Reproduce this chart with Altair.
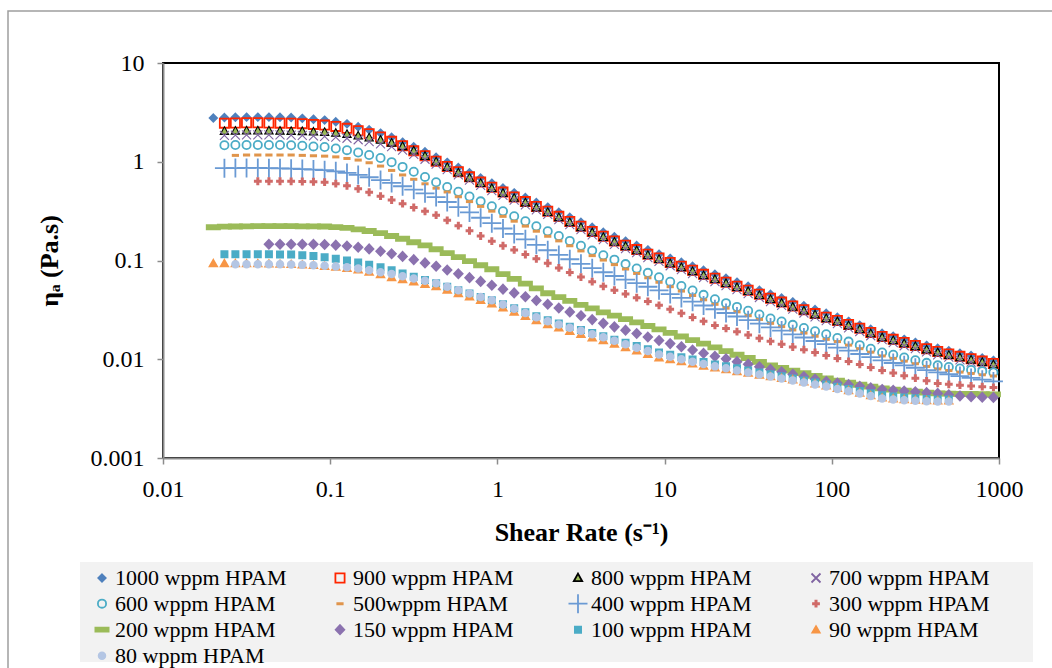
import altair as alt
import pandas as pd

# ---------------- data ----------------
SHEAR_RATE = [0.0200, 0.0233, 0.0271, 0.0316, 0.0369, 0.0430, 0.0501, 0.0584, 0.0681, 0.0794,
              0.0926, 0.108, 0.126, 0.147, 0.171, 0.200, 0.233, 0.271, 0.316, 0.369,
              0.430, 0.501, 0.584, 0.681, 0.794, 0.926, 1.08, 1.26, 1.47, 1.71,
              2.00, 2.33, 2.71, 3.16, 3.69, 4.30, 5.01, 5.84, 6.81, 7.94,
              9.26, 10.8, 12.6, 14.7, 17.1, 20.0, 23.3, 27.1, 31.6, 36.9,
              43.0, 50.1, 58.4, 68.1, 79.4, 92.6, 108, 126, 147, 171,
              200, 233, 271, 316, 369, 430, 501, 584, 681, 794,
              926]

SERIES = ["1000 wppm HPAM", "900 wppm HPAM", "800 wppm HPAM", "700 wppm HPAM",
          "600 wppm HPAM", "500wppm HPAM", "400 wppm HPAM", "300 wppm HPAM",
          "200 wppm HPAM", "150 wppm HPAM", "100 wppm HPAM", "90 wppm HPAM",
          "80 wppm HPAM"]

ETA_1000 = [2.77, 2.80, 2.82, 2.83, 2.83, 2.83, 2.82, 2.80, 2.75, 2.70,
            2.64, 2.54, 2.42, 2.26, 2.11, 1.95, 1.77, 1.58, 1.42, 1.26,
            1.11, 0.986, 0.873, 0.773, 0.684, 0.607, 0.542, 0.484, 0.434, 0.387,
            0.347, 0.308, 0.274, 0.244, 0.217, 0.193, 0.174, 0.157, 0.142, 0.128,
            0.116, 0.105, 0.0959, 0.0875, 0.0796, 0.0726, 0.0661, 0.0603, 0.0548, 0.0500,
            0.0455, 0.0417, 0.0381, 0.0348, 0.0319, 0.0292, 0.0266, 0.0242, 0.0221, 0.0201,
            0.0183, 0.0171, 0.0159, 0.0148, 0.0138, 0.0129, 0.0122, 0.0115, 0.0109, 0.0103,
            0.00973]

ETA_900 = [None, 2.46, 2.47, 2.48, 2.48, 2.47, 2.46, 2.45, 2.43, 2.39,
           2.35, 2.28, 2.18, 2.06, 1.92, 1.78, 1.61, 1.45, 1.29, 1.15,
           1.01, 0.897, 0.794, 0.703, 0.622, 0.552, 0.493, 0.440, 0.395, 0.352,
           0.316, 0.280, 0.249, 0.222, 0.197, 0.176, 0.158, 0.143, 0.129, 0.116,
           0.106, 0.0956, 0.0873, 0.0796, 0.0724, 0.0661, 0.0602, 0.0549, 0.0499, 0.0455,
           0.0414, 0.0379, 0.0347, 0.0317, 0.0290, 0.0266, 0.0247, 0.0225, 0.0206, 0.0187,
           0.0170, 0.0159, 0.0148, 0.0138, 0.0128, 0.0120, 0.0113, 0.0107, 0.0101, 0.00958,
           0.00905]

ETA_800 = [None, 2.04, 2.05, 2.06, 2.06, 2.06, 2.05, 2.04, 2.03, 2.01,
           1.99, 1.95, 1.90, 1.83, 1.75, 1.66, 1.55, 1.43, 1.29, 1.14,
           1.00, 0.881, 0.774, 0.685, 0.606, 0.538, 0.481, 0.429, 0.385, 0.343,
           0.308, 0.273, 0.243, 0.216, 0.192, 0.172, 0.154, 0.139, 0.126, 0.113,
           0.103, 0.0932, 0.0851, 0.0776, 0.0706, 0.0644, 0.0587, 0.0535, 0.0487, 0.0444,
           0.0404, 0.0370, 0.0338, 0.0309, 0.0283, 0.0259, 0.0241, 0.0219, 0.0201, 0.0182,
           0.0166, 0.0155, 0.0144, 0.0135, 0.0125, 0.0117, 0.0110, 0.0104, 0.00985, 0.00934,
           0.00882]

ETA_700 = [None, 1.85, 1.86, 1.87, 1.87, 1.87, 1.87, 1.86, 1.85, 1.83,
           1.81, 1.78, 1.73, 1.67, 1.60, 1.52, 1.42, 1.31, 1.19, 1.06,
           0.944, 0.834, 0.735, 0.651, 0.576, 0.511, 0.457, 0.408, 0.366, 0.326,
           0.293, 0.259, 0.231, 0.205, 0.182, 0.163, 0.146, 0.132, 0.120, 0.107,
           0.0979, 0.0885, 0.0808, 0.0737, 0.0671, 0.0612, 0.0558, 0.0508, 0.0463, 0.0422,
           0.0384, 0.0352, 0.0321, 0.0294, 0.0269, 0.0246, 0.0229, 0.0208, 0.0191, 0.0173,
           0.0158, 0.0147, 0.0137, 0.0128, 0.0119, 0.0111, 0.0105, 0.00988, 0.00936, 0.00887,
           0.00838]

ETA_600 = [None, 1.47, 1.48, 1.48, 1.48, 1.48, 1.48, 1.47, 1.45, 1.43,
           1.41, 1.36, 1.31, 1.24, 1.17, 1.09, 0.991, 0.887, 0.791, 0.702,
           0.621, 0.555, 0.497, 0.444, 0.397, 0.355, 0.315, 0.281, 0.250, 0.222,
           0.198, 0.177, 0.158, 0.141, 0.126, 0.113, 0.102, 0.0920, 0.0830, 0.0750,
           0.0676, 0.0610, 0.0551, 0.0497, 0.0449, 0.0405, 0.0370, 0.0339, 0.0310, 0.0284,
           0.0259, 0.0241, 0.0223, 0.0207, 0.0192, 0.0179, 0.0164, 0.0151, 0.0139, 0.0128,
           0.0117, 0.0111, 0.0104, 0.00979, 0.00920, 0.00867, 0.00836, 0.00805, 0.00780, 0.00757,
           0.00736]

ETA_500 = [None, None, 1.16, 1.17, 1.17, 1.17, 1.17, 1.17, 1.16, 1.15,
           1.14, 1.12, 1.08, 1.04, 0.977, 0.904, 0.817, 0.735, 0.664, 0.598,
           0.540, 0.494, 0.442, 0.395, 0.353, 0.316, 0.280, 0.250, 0.223, 0.198,
           0.176, 0.158, 0.141, 0.125, 0.112, 0.101, 0.0908, 0.0819, 0.0739, 0.0668,
           0.0602, 0.0543, 0.0490, 0.0442, 0.0400, 0.0360, 0.0329, 0.0302, 0.0276, 0.0253,
           0.0231, 0.0214, 0.0198, 0.0184, 0.0171, 0.0159, 0.0151, 0.0139, 0.0128, 0.0118,
           0.0108, 0.0102, 0.00957, 0.00901, 0.00846, 0.00798, 0.00769, 0.00741, 0.00718, 0.00696,
           0.00677]

ETA_400 = [None, 0.861, 0.863, 0.865, 0.865, 0.861, 0.857, 0.851, 0.843, 0.834,
           0.822, 0.800, 0.771, 0.736, 0.697, 0.653, 0.610, 0.565, 0.521, 0.479,
           0.439, 0.391, 0.347, 0.307, 0.271, 0.239, 0.211, 0.186, 0.164, 0.144,
           0.127, 0.114, 0.103, 0.0925, 0.0836, 0.0760, 0.0697, 0.0641, 0.0589, 0.0542,
           0.0499, 0.0457, 0.0418, 0.0383, 0.0350, 0.0321, 0.0294, 0.0271, 0.0249, 0.0229,
           0.0210, 0.0195, 0.0179, 0.0166, 0.0153, 0.0142, 0.0131, 0.0122, 0.0113, 0.0105,
           0.00973, 0.00916, 0.00867, 0.00820, 0.00776, 0.00736, 0.00705, 0.00675, 0.00647, 0.00621,
           0.00596]

ETA_300 = [None, None, None, None, 0.635, 0.635, 0.635, 0.634, 0.631, 0.627,
           0.621, 0.600, 0.570, 0.532, 0.491, 0.448, 0.410, 0.376, 0.344, 0.315,
           0.288, 0.255, 0.225, 0.200, 0.177, 0.157, 0.141, 0.128, 0.115, 0.104,
           0.0938, 0.0841, 0.0757, 0.0679, 0.0611, 0.0548, 0.0501, 0.0459, 0.0420, 0.0385,
           0.0352, 0.0320, 0.0292, 0.0265, 0.0242, 0.0220, 0.0205, 0.0190, 0.0176, 0.0163,
           0.0152, 0.0142, 0.0133, 0.0125, 0.0117, 0.0109, 0.0102, 0.00951, 0.00887, 0.00826,
           0.00771, 0.00726, 0.00682, 0.00643, 0.00604, 0.00569, 0.00557, 0.00546, 0.00536, 0.00527,
           0.00519]

ETA_200 = [0.217, 0.220, 0.221, 0.222, 0.223, 0.223, 0.223, 0.223, 0.222, 0.222,
           0.221, 0.218, 0.214, 0.207, 0.199, 0.189, 0.177, 0.166, 0.153, 0.142,
           0.130, 0.119, 0.108, 0.0984, 0.0895, 0.0815, 0.0728, 0.0652, 0.0582, 0.0521,
           0.0466, 0.0426, 0.0390, 0.0356, 0.0327, 0.0299, 0.0276, 0.0255, 0.0236, 0.0217,
           0.0201, 0.0185, 0.0170, 0.0156, 0.0144, 0.0132, 0.0121, 0.0111, 0.0103, 0.00942,
           0.00867, 0.00817, 0.00767, 0.00723, 0.00679, 0.00640, 0.00608, 0.00579, 0.00552, 0.00527,
           0.00506, 0.00492, 0.00480, 0.00469, 0.00459, 0.00451, 0.00449, 0.00447, 0.00445, 0.00443,
           0.00441]

ETA_150 = [None, None, None, None, None, 0.146, 0.146, 0.146, 0.146, 0.146,
           0.145, 0.143, 0.140, 0.136, 0.131, 0.124, 0.117, 0.110, 0.102, 0.0946,
           0.0875, 0.0800, 0.0733, 0.0670, 0.0614, 0.0561, 0.0513, 0.0470, 0.0430, 0.0394,
           0.0360, 0.0330, 0.0301, 0.0276, 0.0252, 0.0231, 0.0213, 0.0197, 0.0182, 0.0168,
           0.0155, 0.0144, 0.0134, 0.0124, 0.0115, 0.0107, 0.0101, 0.00946, 0.00891, 0.00838,
           0.00789, 0.00746, 0.00705, 0.00667, 0.00630, 0.00596, 0.00574, 0.00553, 0.00532, 0.00513,
           0.00494, 0.00485, 0.00476, 0.00468, 0.00459, 0.00451, 0.00437, 0.00425, 0.00417, 0.00412,
           0.00410]

ETA_100 = [None, 0.116, 0.116, 0.116, 0.116, 0.116, 0.115, 0.115, 0.113, 0.111,
           0.108, 0.104, 0.100, 0.0957, 0.0906, 0.0853, 0.0796, 0.0740, 0.0685, 0.0634,
           0.0587, 0.0543, 0.0501, 0.0463, 0.0428, 0.0395, 0.0360, 0.0328, 0.0299, 0.0272,
           0.0248, 0.0230, 0.0213, 0.0198, 0.0184, 0.0171, 0.0158, 0.0147, 0.0136, 0.0126,
           0.0117, 0.0111, 0.0105, 0.00993, 0.00938, 0.00887, 0.00847, 0.00809, 0.00771, 0.00736,
           0.00703, 0.00671, 0.00640, 0.00611, 0.00582, 0.00556, 0.00528, 0.00501, 0.00476, 0.00453,
           0.00431, 0.00419, 0.00409, 0.00402, 0.00396, 0.00392, 0.00392, None, None, None,
           None]

ETA_90 = [0.0938, 0.0938, 0.0938, 0.0936, 0.0933, 0.0929, 0.0924, 0.0917, 0.0908, 0.0896,
          0.0880, 0.0860, 0.0836, 0.0808, 0.0768, 0.0722, 0.0677, 0.0644, 0.0612, 0.0578,
          0.0546, 0.0505, 0.0466, 0.0431, 0.0398, 0.0367, 0.0333, 0.0302, 0.0273, 0.0248,
          0.0225, 0.0209, 0.0193, 0.0180, 0.0166, 0.0155, 0.0143, 0.0132, 0.0122, 0.0113,
          0.0104, 0.00996, 0.00950, 0.00903, 0.00859, 0.00822, 0.00789, 0.00756, 0.00729, 0.00697,
          0.00670, 0.00646, 0.00623, 0.00594, 0.00567, 0.00542, 0.00511, 0.00483, 0.00458, 0.00432,
          0.00409, 0.00400, 0.00393, 0.00387, 0.00384, 0.00381, 0.00381, None, None, None,
          None]

ETA_80 = [None, None, 0.0916, 0.0918, 0.0918, 0.0916, 0.0914, 0.0912, 0.0906, 0.0897,
          0.0885, 0.0871, 0.0853, 0.0832, 0.0798, 0.0760, 0.0728, 0.0693, 0.0658, 0.0622,
          0.0587, 0.0543, 0.0501, 0.0463, 0.0428, 0.0395, 0.0358, 0.0325, 0.0294, 0.0267,
          0.0242, 0.0225, 0.0208, 0.0194, 0.0179, 0.0167, 0.0154, 0.0142, 0.0131, 0.0121,
          0.0112, 0.0106, 0.0100, 0.00946, 0.00895, 0.00847, 0.00809, 0.00771, 0.00736, 0.00701,
          0.00670, 0.00640, 0.00611, 0.00582, 0.00556, 0.00531, 0.00501, 0.00474, 0.00449, 0.00424,
          0.00401, 0.00392, 0.00385, 0.00379, 0.00376, 0.00374, 0.00374, None, None, None,
          None]

ETA_ALL = [ETA_1000, ETA_900, ETA_800, ETA_700, ETA_600, ETA_500, ETA_400,
           ETA_300, ETA_200, ETA_150, ETA_100, ETA_90, ETA_80]

# ---------------- marker styles (one per series) ----------------
CIRCLE_10 = ("M0.41,0C0.41,0.226 0.226,0.41 0,0.41C-0.226,0.41 -0.41,0.226 -0.41,0"
             "C-0.41,-0.226 -0.226,-0.41 0,-0.41C0.226,-0.41 0.41,-0.226 0.41,0Z")
CIRCLE_8 = ("M0.335,0C0.335,0.185 0.185,0.335 0,0.335C-0.185,0.335 -0.335,0.185 -0.335,0"
            "C-0.335,-0.185 -0.185,-0.335 0,-0.335C0.185,-0.335 0.335,-0.185 0.335,0Z")
SHAPES = [
    "M0,-0.37L0.37,0L0,0.37L-0.37,0Z",                    # 1000 diamond
    "M-0.46,-0.46H0.46V0.46H-0.46Z",                       # 900 open square
    "M0,-0.44L0.42,0.32L-0.42,0.32Z",                      # 800 triangle
    "M-0.45,-0.45L0.45,0.45M-0.45,0.45L0.45,-0.45",        # 700 x
    CIRCLE_10,                                             # 600 open circle
    "M-0.27,-0.06H0.27V0.06H-0.27Z",                       # 500 dash
    "M-0.95,0H0.95M0,-0.95V0.95",                          # 400 big plus
    "M-0.3,-0.06H-0.06V-0.3H0.06V-0.06H0.3V0.06H0.06V0.3H-0.06V0.06H-0.3Z",  # 300 plus
    "M-0.66,-0.2H0.66V0.2H-0.66Z",                         # 200 bar
    "M0,-0.45L0.43,0L0,0.45L-0.43,0Z",                     # 150 diamond
    "M-0.31,-0.31H0.31V0.31H-0.31Z",                       # 100 square
    "M0,-0.34L0.37,0.3L-0.37,0.3Z",                        # 90 triangle
    CIRCLE_8,                                              # 80 circle
]
FILLS = ["#4F81BD", "transparent", "#9BBB59", "transparent", "transparent", "#E0954C",
         "transparent", "#D06A68", "#9BBB59", "#8B72AF", "#4BACC6", "#F79646", "#B4C6E4"]
STROKES = ["#4F81BD", "#FF2600", "#000000", "#8064A2", "#4BACC6", "#E0954C",
           "#6A9AD4", "#D06A68", "#9BBB59", "#8B72AF", "#4BACC6", "#F79646", "#B4C6E4"]
# drawing groups (in Excel's series order) and their outline widths
GROUPS = [(SERIES[0:2], 1.8), (SERIES[2:4], 1.1), (SERIES[4:], 1.8)]

FONT = "Liberation Serif"

# ---------------- build table ----------------
rows = []
for name, etas in zip(SERIES, ETA_ALL):
    assert len(etas) == len(SHEAR_RATE), name
    for rate, eta in zip(SHEAR_RATE, etas):
        if eta is not None:
            rows.append({"series": name, "rate": rate, "eta": eta})
df = pd.DataFrame(rows)

base = alt.Chart(df).encode(
    x=alt.X("rate:Q",
            scale=alt.Scale(type="log", domain=[0.01, 1000]),
            axis=alt.Axis(values=[0.01, 0.1, 1, 10, 100, 1000], format="~g",
                          title="Shear Rate (s⁻¹)", titlePadding=18,
                          labelFlush=False, labelOverlap=False)),
    y=alt.Y("eta:Q",
            scale=alt.Scale(type="log", domain=[0.001, 10]),
            axis=alt.Axis(values=[0.001, 0.01, 0.1, 1, 10], format="~g",
                          title="ηₐ (Pa.s)", titlePadding=28,
                          labelFlush=False, labelOverlap=False)),
    shape=alt.Shape("series:N", title=None, scale=alt.Scale(domain=SERIES, range=SHAPES)),
    fill=alt.Fill("series:N", title=None, scale=alt.Scale(domain=SERIES, range=FILLS)),
    stroke=alt.Stroke("series:N", title=None, scale=alt.Scale(domain=SERIES, range=STROKES)),
)

point_layers = [
    base.transform_filter(alt.FieldOneOfPredicate(field="series", oneOf=names))
        .mark_point(size=400, opacity=1, strokeWidth=sw)
    for names, sw in GROUPS
]

# decorative chart-area frame and legend background panel
frame = alt.Chart(alt.Data(values=[{}])).mark_rect(
    fill="transparent", stroke="#9E9E9E", strokeWidth=1.5
).encode(
    x=alt.value(-155), x2=alt.value(920), y=alt.value(-52), y2=alt.value(640)
)
legend_panel = alt.Chart(alt.Data(values=[{}])).mark_rect(
    fill="#F2F2F2", stroke="transparent"
).encode(
    x=alt.value(-83), x2=alt.value(870), y=alt.value(499), y2=alt.value(599)
)

chart = alt.layer(frame, legend_panel, *point_layers).properties(
    width=836, height=395,
    padding={"left": 163, "top": 63, "right": 53, "bottom": 210},
    autosize=alt.AutoSizeParams(type="none"),
    background="white",
).configure_view(
    stroke="black", strokeWidth=2
).configure_axis(
    domainColor="#8C8C8C", domainWidth=2, tickColor="#8C8C8C", tickWidth=1.5,
    tickSize=6, labelFont=FONT, labelFontSize=24, labelColor="black",
    labelPadding=13, titleFont=FONT, titleFontSize=26, titleFontWeight="bold",
    titleColor="black", grid=False
).configure_legend(
    orient="none", legendX=-76, legendY=498, columns=4, direction="horizontal",
    gridAlign="all", padding=4, labelFont=FONT,
    labelFontSize=22, labelColor="black", labelOffset=2, columnPadding=42,
    rowPadding=0, clipHeight=25.3, symbolSize=400, symbolStrokeWidth=1.8,
    labelLimit=400
)

chart.save("out.html", embed_options={"renderer": "svg", "actions": False})
